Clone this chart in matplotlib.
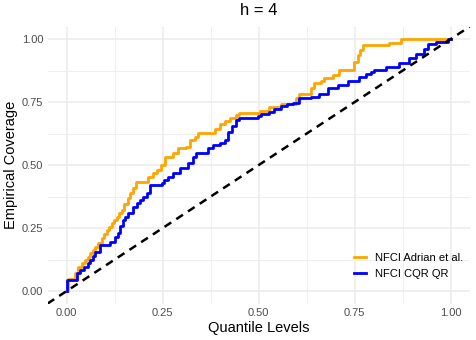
import numpy as np
import matplotlib.pyplot as plt

plt.rcParams['font.family'] = ['Liberation Sans', 'DejaVu Sans']

# step breakpoints (quantile level -> empirical coverage)
adrian_q = [0.0, 0.003, 0.022, 0.03, 0.04, 0.048, 0.055, 0.06, 0.068, 0.074, 0.082, 0.091,
            0.098, 0.104, 0.11, 0.117, 0.124, 0.13, 0.137, 0.143, 0.15, 0.16, 0.165, 0.173,
            0.18, 0.212, 0.225, 0.234, 0.245, 0.256, 0.277, 0.29, 0.312, 0.32, 0.334, 0.342,
            0.386, 0.399, 0.412, 0.425, 0.442, 0.45, 0.503, 0.528, 0.559, 0.598, 0.606, 0.637,
            0.645, 0.663, 0.671, 0.693, 0.71, 0.749, 0.758, 0.765, 0.771, 0.84, 0.871, 1.0]
adrian_cov = [0.0, 0.046, 0.07, 0.096, 0.11, 0.123, 0.137, 0.15, 0.163, 0.176, 0.19, 0.209,
              0.226, 0.242, 0.255, 0.269, 0.282, 0.295, 0.308, 0.321, 0.345, 0.368, 0.39, 0.41,
              0.434, 0.454, 0.467, 0.48, 0.5, 0.533, 0.546, 0.566, 0.573, 0.6, 0.612, 0.628,
              0.645, 0.665, 0.675, 0.685, 0.698, 0.705, 0.716, 0.731, 0.742, 0.765, 0.784, 0.805,
              0.824, 0.835, 0.844, 0.857, 0.877, 0.91, 0.937, 0.955, 0.976, 0.985, 1.0, 1.0]

cqr_q = [0.0, 0.002, 0.026, 0.035, 0.045, 0.055, 0.06, 0.068, 0.074, 0.087, 0.113, 0.125,
         0.134, 0.14, 0.147, 0.152, 0.16, 0.173, 0.182, 0.19, 0.2, 0.208, 0.217, 0.247, 0.253,
         0.265, 0.277, 0.295, 0.316, 0.329, 0.338, 0.368, 0.381, 0.399, 0.412, 0.42, 0.43,
         0.442, 0.45, 0.498, 0.507, 0.528, 0.541, 0.559, 0.575, 0.589, 0.606, 0.637, 0.658,
         0.68, 0.706, 0.732, 0.762, 0.78, 0.793, 0.801, 0.832, 0.866, 0.892, 0.91, 0.931,
         0.94, 0.962, 0.992, 1.0]
cqr_cov = [0.0, 0.044, 0.07, 0.083, 0.096, 0.11, 0.123, 0.14, 0.156, 0.183, 0.196, 0.215,
           0.229, 0.26, 0.28, 0.295, 0.308, 0.335, 0.35, 0.361, 0.374, 0.388, 0.42, 0.427, 0.44,
           0.453, 0.467, 0.487, 0.507, 0.533, 0.546, 0.566, 0.579, 0.586, 0.599, 0.632, 0.655,
           0.679, 0.685, 0.695, 0.702, 0.711, 0.722, 0.735, 0.742, 0.747, 0.765, 0.771, 0.784,
           0.804, 0.817, 0.834, 0.848, 0.862, 0.87, 0.877, 0.89, 0.907, 0.927, 0.94, 0.959,
           0.979, 0.99, 1.0, 1.0]

ticks = [0.0, 0.25, 0.5, 0.75, 1.0]
tick_labels = ['0.00', '0.25', '0.50', '0.75', '1.00']

fig = plt.figure(figsize=(4.76, 3.4), dpi=100)
ax = fig.add_axes([0.0998, 0.107, 0.8872, 0.815])

ax.step(adrian_q, adrian_cov, where='post', color='orange', lw=2.0, label='NFCI Adrian et al.')
ax.step(cqr_q, cqr_cov, where='post', color='blue', lw=2.0, label='NFCI CQR QR')
ax.axline((0, 0), (1, 1), color='black', lw=1.8, dashes=(3.2, 2.4))

ax.set_xlim(-0.05, 1.05)
ax.set_ylim(-0.05, 1.05)
ax.set_xticks(ticks)
ax.set_xticklabels(tick_labels)
ax.set_yticks(ticks)
ax.set_yticklabels(tick_labels)
ax.set_xticks([0.125, 0.375, 0.625, 0.875], minor=True)
ax.set_yticks([0.125, 0.375, 0.625, 0.875], minor=True)
ax.grid(True, which='major', color='#EBEBEB', lw=1.1)
ax.grid(True, which='minor', color='#EBEBEB', lw=0.6)
ax.set_axisbelow(True)
for s in ax.spines.values():
    s.set_visible(False)
ax.tick_params(which='both', length=0, labelsize=8, labelcolor='#4D4D4D', pad=3)

ax.set_xlabel('Quantile Levels', fontsize=10.5, labelpad=2)
ax.set_ylabel('Empirical Coverage', fontsize=10.5, labelpad=3)
ax.set_title('h = 4', fontsize=12, pad=8)

ax.legend(loc='lower right', bbox_to_anchor=(1.0, 0.065), frameon=False, fontsize=8,
          handlelength=1.1, handletextpad=0.8, labelspacing=0.55, borderaxespad=0.2)

fig.savefig('out.png', dpi=100)
